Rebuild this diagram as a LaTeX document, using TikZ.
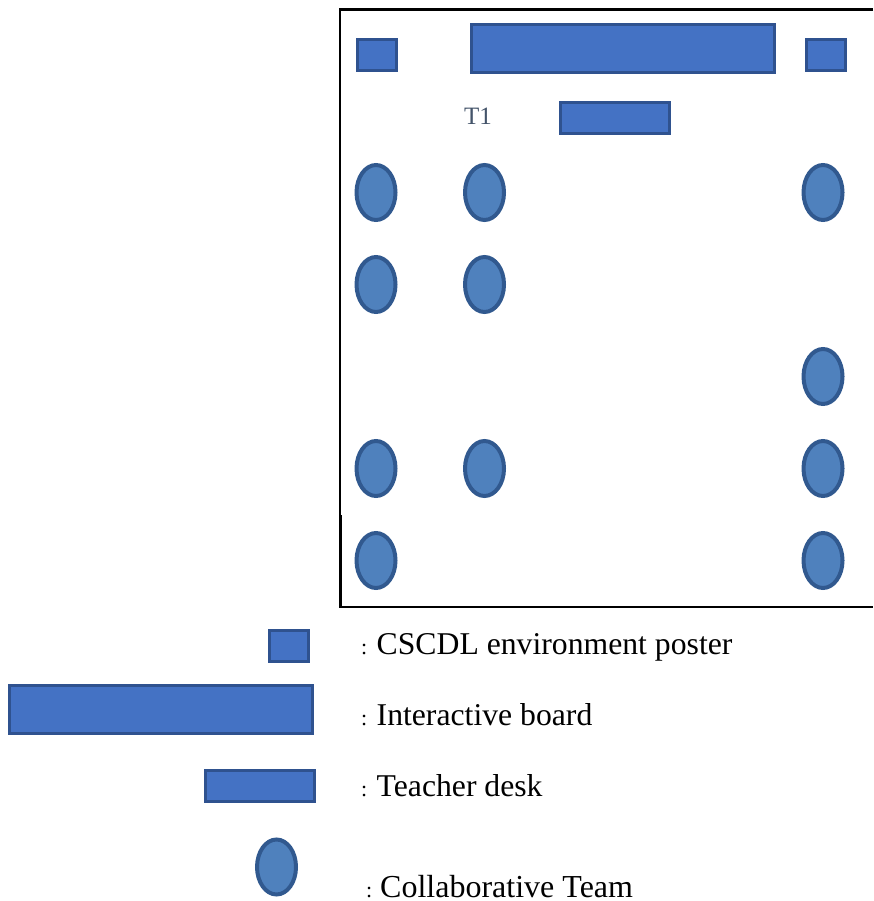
\documentclass[tikz,border=0pt]{standalone}
\usepackage{fontspec}
\setmainfont{Liberation Serif}
\usetikzlibrary{shapes.geometric}
\definecolor{boxfill}{HTML}{4472C4}
\definecolor{boxline}{HTML}{2F528F}
\definecolor{ovalfill}{HTML}{4F81BD}
\definecolor{ovalline}{HTML}{31598F}
\definecolor{tone}{HTML}{44546A}
\tikzset{
  x=1pt,y=-1pt,
  blockbox/.style={draw=boxline,fill=boxfill,line width=3pt,rectangle,inner sep=0pt,outer sep=0pt},
  poster/.style={blockbox,minimum width=39pt,minimum height=31pt},
  board/.style={blockbox,minimum width=303pt,minimum height=48pt},
  desk/.style={blockbox,minimum width=109pt,minimum height=31pt},
  team/.style={draw=ovalline,fill=ovalfill,line width=4pt,ellipse,inner sep=0pt,outer sep=0pt,minimum width=39pt,minimum height=55pt},
  legendtext/.style={anchor=base west,inner sep=0pt,font=\fontsize{31.7}{34}\selectfont},
  colontext/.style={anchor=base west,inner sep=0pt,font=\fontsize{22}{24}\selectfont},
}
\begin{document}
\begin{tikzpicture}
\useasboundingbox (0,0) rectangle (873,901);
% room frame
\draw[black,line width=2.5pt] (873,9.5) -- (340,9.5);
\draw[black,line width=1.5pt] (340,8.5) -- (340,515);
\draw[black,line width=2.5pt] (340.5,515) -- (340.5,608) (339.5,607) -- (873,607);
% room furniture
\node[poster] (p1) at (376.5,55.5) {};
\node[board] (b1) at (622.5,49) {};
\node[poster] (p2) at (825.5,55.5) {};
\node[desk] (d1) at (614.5,118.5) {};
\node[inner sep=0pt,text=tone,font=\fontsize{25}{27}\selectfont,anchor=base west] (t1) at (464,125) {T1};
% teams
\node[team] (a1) at (376,192.5) {};
\node[team] (a2) at (484.5,192.5) {};
\node[team] (a3) at (823,192.5) {};
\node[team] (b2) at (376,284.5) {};
\node[team] (b3) at (484.5,284.5) {};
\node[team] (c1) at (823,376.5) {};
\node[team] (e1) at (376,468.5) {};
\node[team] (e2) at (484.5,468.5) {};
\node[team] (e3) at (823,468.5) {};
\node[team] (f1) at (376,560.5) {};
\node[team] (f2) at (823,560.5) {};
% legend
\node[poster] (lp) at (288.5,645.5) {};
\node[board] (lb) at (160.5,709) {};
\node[desk] (ld) at (259.5,785.5) {};
\node[team] (lt) at (276.5,867) {};
\node[colontext] (c1a) at (361,654) {:};
\node[legendtext] (l1) at (376.5,654) {CSCDL environment poster};
\node[colontext] (c2a) at (361,725) {:};
\node[legendtext] (l2) at (376.5,725) {Interactive board};
\node[colontext] (c3a) at (361,796) {:};
\node[legendtext] (l3) at (376.5,796) {Teacher desk};
\node[colontext] (c4a) at (366,897) {:};
\node[legendtext,font=\fontsize{32}{34}\selectfont] (l4) at (380,897) {Collaborative Team};
\end{tikzpicture}
\end{document}
